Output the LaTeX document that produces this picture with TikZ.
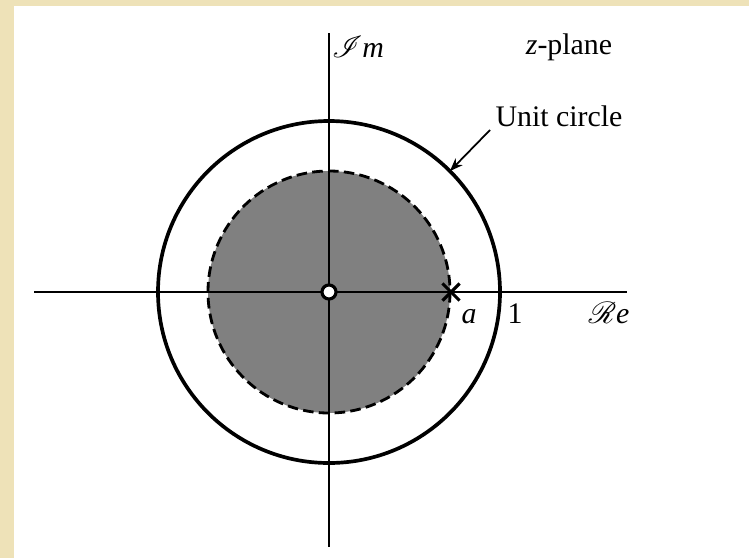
\documentclass[tikz,border=0pt]{standalone}
\usepackage{fontspec}
\setmainfont{Liberation Serif}
\usepackage{mathrsfs}
\usetikzlibrary{
    positioning,
    calc,
    arrows.meta,
    shapes.misc
}
\definecolor{paper}{RGB}{238,226,184}
\definecolor{shade}{gray}{0.5}
\tikzset{
    >=Stealth,
    axis/.style={line width=1.2pt},
    unitcirc/.style={line width=2.1pt},
    region/.style={
        fill=shade,
        dash pattern=on 6pt off 3pt,
        line width=1.6pt
    },
    zero/.style={
        circle, draw, fill=white,
        line width=1.8pt,
        inner sep=0pt,
        minimum size=8pt
    },
    pole/.style={
        cross out, draw,
        line width=1.8pt,
        inner sep=0pt,
        minimum size=8pt
    },
    lbl/.style={
        font=\fontsize{17}{20}\selectfont,
        inner sep=1pt
    }
}

\begin{document}
\begin{tikzpicture}[
    x=0.02cm,
    y=-0.02cm
]

    % Fondo
    \fill[paper] (0,0) rectangle (749,558);
    \fill[white] (14,6) rectangle (749,558);
    \useasboundingbox (0,0) rectangle (749,558);

    % Puntos
    \coordinate (O)  at (329,292);
    \coordinate (xl) at (34,292);
    \coordinate (xr) at (627,292);
    \coordinate (yt) at (329,33);
    \coordinate (yb) at (329,547);
    \coordinate (uc) at ($(O)+(-45:171)$);
    \coordinate (tail) at (490,130);

    % Region sombreada y ejes
    \draw[region] (O) circle[radius=121];
    \draw[axis] (xl) -- (xr);
    \draw[axis] (yt) -- (yb);
    \draw[unitcirc] (O) circle[radius=171];

    % Cero y polo
    \node[zero] (z0) at (O) {};
    \node[pole] (pa) at (451,292) {};

    % Textos
    \node[lbl] (im)    at (358,47)  {$\mathscr{I}$\textit{m}};
    \node[lbl] (zpl)   at (569,47)  {\textit{z}-plane};
    \node[lbl] (unit)  at (559,116) {Unit circle};
    \node[lbl, anchor=base] (la)  at (469,323) {\textit{a}};
    \node[lbl, anchor=base] (one) at (515,323) {1};
    \node[lbl, anchor=base] (re)  at (609,323) {$\mathscr{R}$\textit{e}};

    % Flecha
    \draw[->, line width=1pt] (tail) -- (uc);

\end{tikzpicture}
\end{document}
